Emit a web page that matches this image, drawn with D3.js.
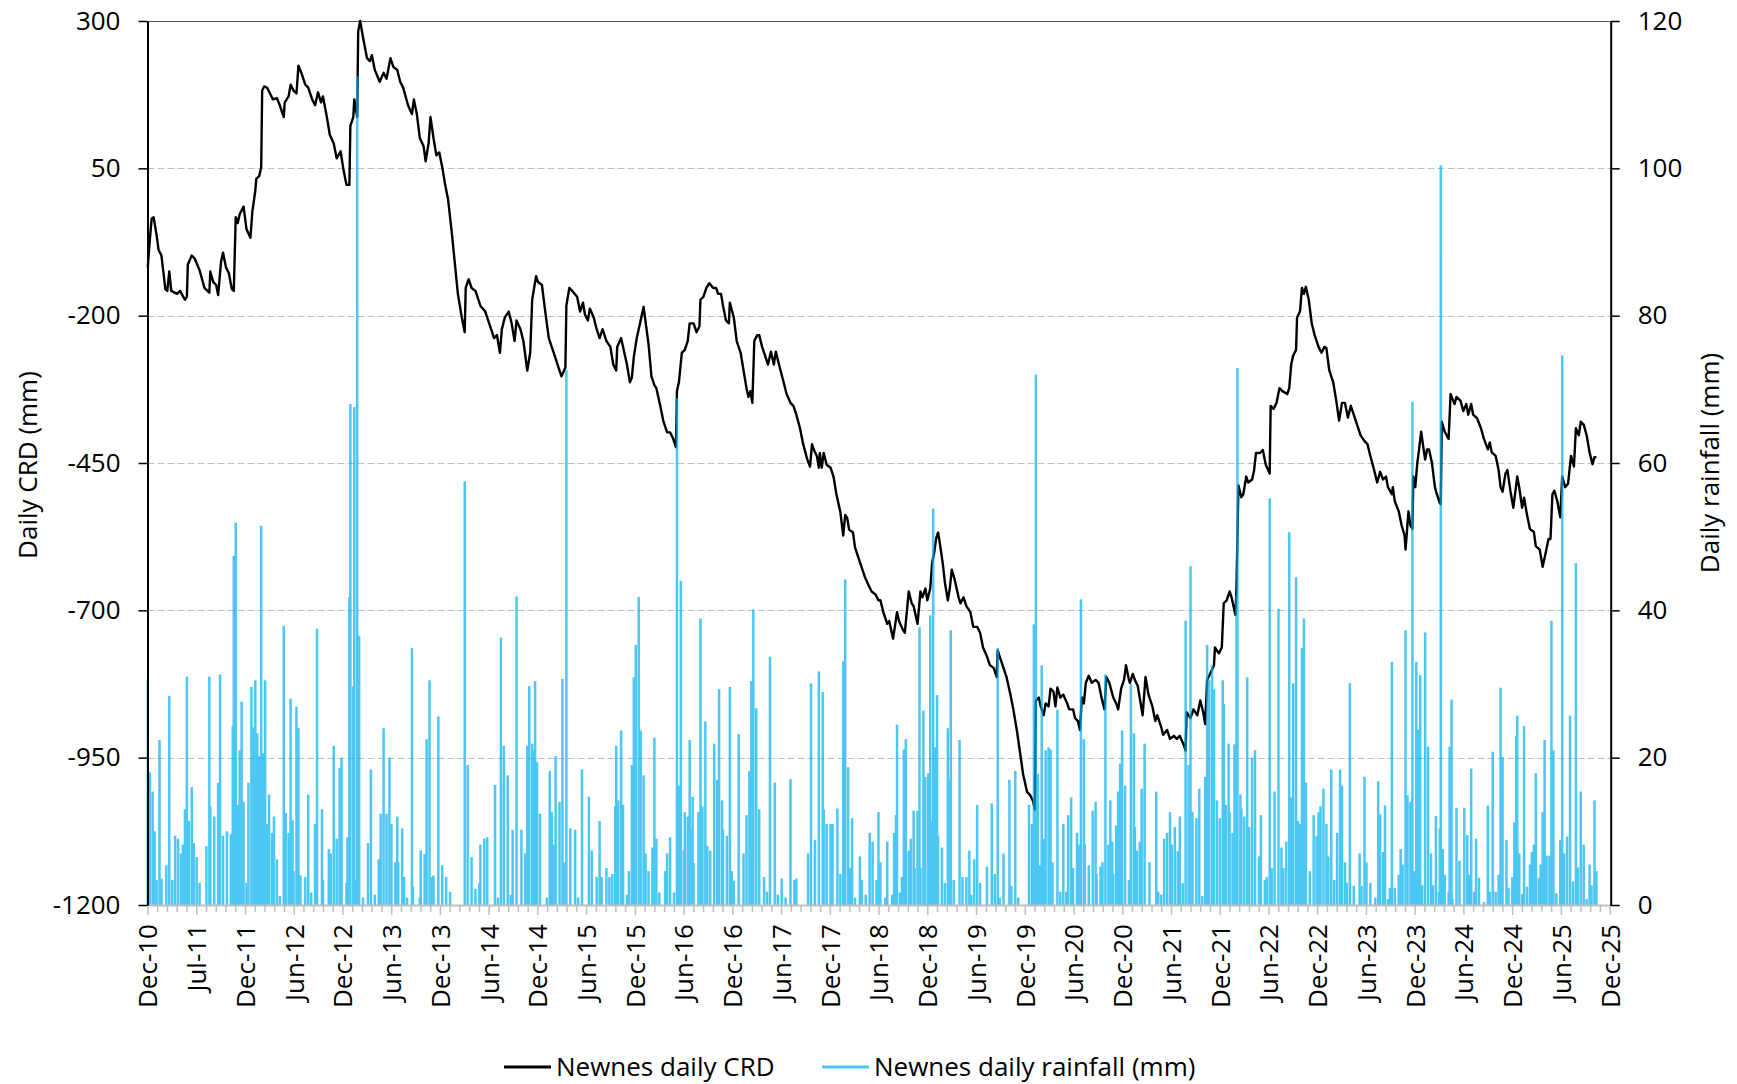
<!DOCTYPE html>
<html>
<head>
<meta charset="utf-8">
<script src="https://cdn.jsdelivr.net/npm/d3@7"></script>
<style>
  body { margin: 0; background: #fff; }
  svg text { font-family: "Open Sans", sans-serif; fill: #000; }
</style>
</head>
<body>
<div id="chart"></div>
<script>
// dates are decimal years
const crdPoints = [
  [2011.00,-118],[2011.02,-73],[2011.04,-35],[2011.06,-33],[2011.09,-63],[2011.11,-88],[2011.14,-98],[2011.18,-155],
  [2011.20,-158],[2011.22,-125],[2011.24,-158],[2011.30,-163],[2011.33,-158],[2011.38,-173],[2011.40,-168],[2011.41,-113],
  [2011.45,-98],[2011.48,-103],[2011.53,-123],[2011.58,-153],[2011.63,-161],[2011.64,-125],[2011.67,-143],[2011.70,-148],
  [2011.72,-165],[2011.75,-108],[2011.77,-93],[2011.80,-118],[2011.83,-128],[2011.86,-155],[2011.88,-158],[2011.90,-33],
  [2011.92,-43],[2011.94,-28],[2011.98,-15],[2012.01,-53],[2012.05,-68],[2012.07,-23],[2012.10,12],[2012.11,32],
  [2012.14,37],[2012.16,52],[2012.17,182],[2012.19,189],[2012.22,187],[2012.25,177],[2012.28,167],[2012.32,169],
  [2012.35,157],[2012.39,137],[2012.40,162],[2012.44,172],[2012.46,192],[2012.49,182],[2012.52,177],[2012.54,224],
  [2012.57,212],[2012.61,192],[2012.64,187],[2012.68,167],[2012.71,157],[2012.74,179],[2012.77,162],[2012.79,172],
  [2012.83,137],[2012.86,107],[2012.90,92],[2012.93,67],[2012.97,79],[2013.00,47],[2013.03,22],[2013.06,22],
  [2013.07,122],[2013.10,137],[2013.11,167],[2013.14,137],[2013.15,282],[2013.17,300],[2013.20,272],[2013.24,237],
  [2013.27,232],[2013.29,242],[2013.32,217],[2013.37,197],[2013.41,212],[2013.44,202],[2013.48,237],[2013.51,222],
  [2013.55,217],[2013.58,197],[2013.61,187],[2013.66,157],[2013.70,142],[2013.72,167],[2013.75,142],[2013.78,102],
  [2013.82,87],[2013.84,62],[2013.87,92],[2013.89,137],[2013.92,102],[2013.95,72],[2013.98,77],[2014.01,52],
  [2014.04,22],[2014.07,-3],[2014.11,-63],[2014.14,-113],[2014.17,-163],[2014.21,-203],[2014.24,-228],[2014.25,-153],
  [2014.28,-138],[2014.31,-153],[2014.35,-158],[2014.40,-183],[2014.45,-193],[2014.48,-208],[2014.52,-228],[2014.54,-238],
  [2014.57,-233],[2014.60,-263],[2014.62,-223],[2014.65,-203],[2014.69,-193],[2014.72,-213],[2014.75,-243],[2014.77,-208],
  [2014.81,-223],[2014.84,-243],[2014.88,-293],[2014.91,-263],[2014.93,-173],[2014.95,-153],[2014.97,-133],[2014.99,-143],
  [2015.03,-148],[2015.06,-188],[2015.10,-238],[2015.13,-253],[2015.16,-268],[2015.20,-288],[2015.23,-303],[2015.27,-288],
  [2015.28,-183],[2015.31,-153],[2015.34,-158],[2015.39,-168],[2015.42,-193],[2015.45,-178],[2015.47,-198],[2015.50,-208],
  [2015.52,-188],[2015.56,-203],[2015.59,-223],[2015.62,-238],[2015.65,-223],[2015.69,-243],[2015.73,-253],[2015.76,-283],
  [2015.79,-293],[2015.80,-253],[2015.84,-238],[2015.86,-253],[2015.90,-283],[2015.93,-313],[2015.95,-305],[2015.97,-270],
  [2016.00,-238],[2016.02,-223],[2016.04,-208],[2016.07,-185],[2016.08,-198],[2016.12,-248],[2016.15,-303],[2016.18,-318],
  [2016.20,-323],[2016.24,-353],[2016.27,-378],[2016.31,-398],[2016.34,-398],[2016.37,-408],[2016.40,-423],[2016.41,-328],
  [2016.43,-313],[2016.46,-263],[2016.49,-258],[2016.52,-243],[2016.54,-213],[2016.58,-213],[2016.61,-228],[2016.64,-218],
  [2016.65,-173],[2016.68,-168],[2016.71,-153],[2016.74,-145],[2016.78,-153],[2016.81,-153],[2016.83,-163],[2016.86,-163],
  [2016.88,-183],[2016.91,-208],[2016.94,-213],[2016.95,-178],[2016.99,-203],[2017.02,-243],[2017.06,-263],[2017.09,-293],
  [2017.12,-323],[2017.14,-338],[2017.16,-328],[2017.18,-348],[2017.20,-243],[2017.23,-233],[2017.25,-233],[2017.28,-253],
  [2017.31,-268],[2017.34,-283],[2017.37,-261],[2017.40,-283],[2017.42,-261],[2017.46,-288],[2017.50,-313],[2017.53,-333],
  [2017.57,-348],[2017.60,-353],[2017.63,-368],[2017.67,-393],[2017.70,-418],[2017.74,-443],[2017.77,-456],[2017.79,-418],
  [2017.81,-428],[2017.84,-438],[2017.86,-458],[2017.87,-433],[2017.89,-458],[2017.91,-433],[2017.94,-453],[2017.98,-458],
  [2018.01,-473],[2018.04,-503],[2018.08,-533],[2018.11,-573],[2018.13,-538],[2018.15,-543],[2018.17,-563],[2018.21,-568],
  [2018.23,-593],[2018.27,-613],[2018.30,-628],[2018.33,-643],[2018.37,-658],[2018.40,-668],[2018.44,-673],[2018.47,-683],
  [2018.49,-683],[2018.52,-703],[2018.56,-723],[2018.58,-718],[2018.62,-748],[2018.66,-703],[2018.68,-718],[2018.72,-733],
  [2018.74,-738],[2018.78,-668],[2018.81,-688],[2018.83,-693],[2018.87,-723],[2018.90,-668],[2018.92,-678],[2018.95,-663],
  [2018.97,-683],[2019.00,-663],[2019.02,-618],[2019.04,-603],[2019.06,-578],[2019.08,-568],[2019.10,-588],[2019.13,-623],
  [2019.15,-653],[2019.18,-683],[2019.20,-663],[2019.22,-631],[2019.25,-648],[2019.29,-678],[2019.31,-688],[2019.34,-678],
  [2019.37,-693],[2019.41,-703],[2019.44,-728],[2019.48,-728],[2019.51,-738],[2019.54,-763],[2019.58,-778],[2019.61,-793],
  [2019.65,-798],[2019.68,-813],[2019.69,-768],[2019.71,-778],[2019.75,-798],[2019.78,-813],[2019.82,-843],[2019.85,-868],
  [2019.89,-908],[2019.92,-943],[2019.95,-978],[2019.99,-1008],[2020.02,-1013],[2020.05,-1023],[2020.07,-1038],[2020.08,-853],
  [2020.11,-848],[2020.13,-863],[2020.16,-878],[2020.18,-858],[2020.21,-863],[2020.23,-833],[2020.26,-838],[2020.28,-863],
  [2020.30,-831],[2020.33,-848],[2020.36,-843],[2020.40,-858],[2020.42,-868],[2020.46,-868],[2020.48,-883],[2020.51,-888],
  [2020.53,-903],[2020.55,-848],[2020.57,-858],[2020.59,-823],[2020.62,-811],[2020.65,-823],[2020.69,-818],[2020.72,-823],
  [2020.75,-848],[2020.78,-868],[2020.80,-813],[2020.83,-823],[2020.87,-848],[2020.90,-858],[2020.92,-868],[2020.95,-833],
  [2020.98,-818],[2021.00,-793],[2021.03,-818],[2021.04,-823],[2021.07,-808],[2021.09,-818],[2021.12,-828],[2021.15,-858],
  [2021.17,-878],[2021.20,-813],[2021.23,-843],[2021.27,-863],[2021.30,-888],[2021.32,-878],[2021.36,-898],[2021.38,-911],
  [2021.42,-903],[2021.45,-918],[2021.49,-913],[2021.52,-918],[2021.55,-913],[2021.59,-928],[2021.61,-938],[2021.62,-873],
  [2021.66,-883],[2021.69,-868],[2021.73,-878],[2021.76,-853],[2021.79,-873],[2021.81,-893],[2021.83,-818],[2021.86,-808],
  [2021.90,-793],[2021.91,-763],[2021.95,-773],[2021.98,-763],[2022.00,-688],[2022.03,-683],[2022.06,-668],[2022.08,-678],
  [2022.12,-708],[2022.13,-663],[2022.15,-488],[2022.18,-508],[2022.20,-503],[2022.23,-473],[2022.25,-483],[2022.29,-478],
  [2022.31,-463],[2022.33,-433],[2022.37,-433],[2022.40,-428],[2022.43,-453],[2022.47,-468],[2022.48,-353],[2022.51,-358],
  [2022.54,-348],[2022.57,-323],[2022.60,-328],[2022.65,-333],[2022.67,-323],[2022.69,-283],[2022.71,-268],[2022.74,-258],
  [2022.75,-203],[2022.78,-193],[2022.80,-153],[2022.82,-163],[2022.84,-151],[2022.87,-173],[2022.90,-213],[2022.93,-233],
  [2022.97,-253],[2023.00,-263],[2023.03,-253],[2023.05,-255],[2023.08,-293],[2023.12,-313],[2023.15,-343],[2023.18,-378],
  [2023.21,-348],[2023.24,-348],[2023.27,-373],[2023.30,-353],[2023.33,-368],[2023.37,-388],[2023.40,-403],[2023.44,-413],
  [2023.47,-418],[2023.50,-438],[2023.54,-463],[2023.57,-483],[2023.60,-465],[2023.63,-478],[2023.66,-473],[2023.68,-491],
  [2023.72,-503],[2023.73,-491],[2023.75,-515],[2023.79,-532],[2023.82,-556],[2023.85,-573],[2023.86,-597],[2023.89,-532],
  [2023.91,-556],[2023.93,-562],[2023.94,-473],[2023.96,-491],[2023.98,-450],[2023.99,-438],[2024.02,-397],[2024.04,-421],
  [2024.06,-444],[2024.08,-427],[2024.10,-427],[2024.13,-450],[2024.16,-491],[2024.18,-503],[2024.21,-518],[2024.22,-520],
  [2024.23,-380],[2024.26,-397],[2024.30,-409],[2024.32,-333],[2024.36,-350],[2024.38,-338],[2024.42,-344],[2024.45,-362],
  [2024.48,-350],[2024.50,-368],[2024.53,-350],[2024.55,-368],[2024.59,-374],[2024.63,-391],[2024.66,-409],[2024.70,-427],
  [2024.72,-415],[2024.74,-432],[2024.78,-438],[2024.81,-462],[2024.83,-491],[2024.85,-499],[2024.88,-468],[2024.90,-462],
  [2024.93,-497],[2024.96,-526],[2025.00,-473],[2025.02,-491],[2025.05,-526],[2025.07,-509],[2025.10,-538],[2025.13,-562],
  [2025.17,-567],[2025.19,-591],[2025.23,-597],[2025.26,-626],[2025.29,-603],[2025.32,-579],[2025.34,-579],[2025.36,-503],
  [2025.38,-497],[2025.41,-515],[2025.44,-542],[2025.46,-473],[2025.49,-491],[2025.52,-485],[2025.55,-438],[2025.58,-456],
  [2025.60,-391],[2025.63,-403],[2025.65,-380],[2025.68,-385],[2025.71,-403],[2025.74,-432],[2025.77,-452],[2025.79,-440],
  [2025.81,-440]
];

const rainPoints = [
  [2011.00,30.5],[2011.02,18],[2011.05,15.4],[2011.07,10],[2011.09,3.4],[2011.12,22.4],[2011.14,3.6],[2011.19,5.4],
  [2011.22,28.4],[2011.25,3.4],[2011.28,9.4],[2011.31,9],[2011.34,7],[2011.36,8.2],[2011.38,13],[2011.40,31],
  [2011.42,11.4],[2011.45,16],[2011.47,8.4],[2011.50,6.5],[2011.53,3],[2011.60,8],[2011.63,31],[2011.64,13.4],
  [2011.68,12],[2011.72,16.6],[2011.74,31.3],[2011.77,9.4],[2011.81,10],[2011.85,9.6],[2011.87,24.3],[2011.88,47.4],
  [2011.90,51.9],[2011.92,13.6],[2011.94,21],[2011.96,27.6],[2011.98,14],[2012.01,3],[2012.03,16.6],[2012.06,29.6],
  [2012.08,24.1],[2012.10,30.5],[2012.12,23.3],[2012.14,20.2],[2012.16,51.5],[2012.18,20.6],[2012.20,30.5],[2012.22,11],
  [2012.24,15],[2012.27,9.8],[2012.29,12],[2012.32,6.2],[2012.35,1.2],[2012.39,37.9],[2012.41,12.5],[2012.44,9.8],
  [2012.46,28],[2012.48,11.5],[2012.49,4.6],[2012.52,26.9],[2012.54,24],[2012.56,4],[2012.61,3.8],[2012.64,15],
  [2012.67,1.7],[2012.71,11],[2012.73,37.5],[2012.78,13],[2012.79,3.4],[2012.85,7.6],[2012.87,7],[2012.90,21.6],
  [2012.93,9],[2012.96,18.6],[2012.98,20],[2013.03,3],[2013.04,9.2],[2013.06,41.8],[2013.07,68],[2013.10,29.7],
  [2013.11,67.6],[2013.13,3.4],[2013.14,112.5],[2013.16,36.5],[2013.20,1],[2013.25,8.4],[2013.28,18.4],[2013.32,1.4],
  [2013.36,6.2],[2013.38,12.4],[2013.41,24],[2013.44,12.4],[2013.47,20],[2013.49,11],[2013.53,5.8],[2013.55,12],
  [2013.56,5.8],[2013.60,10.4],[2013.62,3.8],[2013.65,1],[2013.70,34.9],[2013.71,2.5],[2013.78,1],[2013.79,7.4],
  [2013.83,6.9],[2013.85,22.5],[2013.88,30.5],[2013.90,3.8],[2013.92,4],[2013.97,25.6],[2014.01,5.4],[2014.05,3.8],
  [2014.09,1.8],[2014.24,57.5],[2014.27,19],[2014.31,6.5],[2014.35,2.2],[2014.39,3],[2014.40,8.2],[2014.44,9],
  [2014.47,9.2],[2014.55,16.3],[2014.58,1],[2014.61,36.3],[2014.64,21.6],[2014.68,17.6],[2014.71,1.4],[2014.73,10.2],
  [2014.77,41.9],[2014.82,10.2],[2014.86,7],[2014.88,21.6],[2014.90,29.7],[2014.93,21.9],[2014.94,21],[2014.96,30.4],
  [2014.98,19.4],[2015.01,12.4],[2015.08,1],[2015.11,18.2],[2015.13,12.6],[2015.15,8.2],[2015.17,20.2],[2015.21,14],
  [2015.24,30.7],[2015.26,5.8],[2015.28,72.6],[2015.32,10.4],[2015.37,10.2],[2015.40,1],[2015.44,18.4],[2015.51,14.7],
  [2015.54,7.4],[2015.59,3.8],[2015.62,11.4],[2015.64,3.8],[2015.69,5],[2015.72,3.8],[2015.75,4.2],[2015.78,13.4],
  [2015.79,21.6],[2015.81,14.2],[2015.84,23.7],[2015.86,13.6],[2015.90,1.4],[2015.92,4.6],[2015.95,19],[2015.97,30.9],
  [2015.99,35.3],[2016.02,41.8],[2016.04,23.7],[2016.07,17.6],[2016.09,7],[2016.12,4.6],[2016.16,7.8],[2016.18,22.7],
  [2016.20,9],[2016.23,1.7],[2016.29,4.6],[2016.31,7],[2016.34,9.2],[2016.38,1.7],[2016.41,68.8],[2016.43,16.2],
  [2016.45,44],[2016.48,7.4],[2016.49,12.6],[2016.52,12],[2016.54,22.4],[2016.55,10.4],[2016.57,14.7],[2016.58,5.7],
  [2016.63,12.6],[2016.65,38.9],[2016.67,13.4],[2016.70,24.9],[2016.72,8],[2016.75,7.4],[2016.79,21.9],[2016.82,17],
  [2016.84,29.3],[2016.87,14.2],[2016.88,10.2],[2016.92,9.4],[2016.95,29.6],[2016.97,4.6],[2016.99,3.3],[2017.04,23.2],
  [2017.09,7],[2017.12,12.2],[2017.15,18.2],[2017.17,30.4],[2017.19,40.1],[2017.22,26.7],[2017.25,13],[2017.30,3.8],
  [2017.33,1.8],[2017.36,33.7],[2017.41,16.6],[2017.44,1.4],[2017.48,3.6],[2017.52,1],[2017.57,17.1],[2017.61,3.4],
  [2017.63,3.6],[2017.75,7],[2017.78,30.1],[2017.82,8.8],[2017.86,31.7],[2017.90,28.9],[2017.91,13],[2017.94,11],
  [2017.98,11],[2018.00,11],[2018.05,13.1],[2018.08,4.2],[2018.11,33.1],[2018.13,44.2],[2018.16,18.7],[2018.18,5],
  [2018.20,11.8],[2018.23,1],[2018.28,6.6],[2018.30,3.4],[2018.34,1.4],[2018.38,9.8],[2018.41,8.6],[2018.45,3.4],
  [2018.47,12.6],[2018.49,5.8],[2018.54,1],[2018.56,8.6],[2018.61,1.4],[2018.63,9.8],[2018.65,12.2],[2018.66,24.5],
  [2018.69,1.7],[2018.71,3.8],[2018.73,21.1],[2018.75,22.5],[2018.78,7.4],[2018.80,9],[2018.83,12.8],[2018.84,5],
  [2018.87,12.8],[2018.89,37.7],[2018.90,5],[2018.93,26.4],[2018.95,17.4],[2018.98,17.9],[2019.00,39.3],[2019.02,11.4],
  [2019.03,53.8],[2019.05,21.4],[2019.07,28.5],[2019.08,9.4],[2019.12,7.8],[2019.15,3],[2019.18,24],[2019.20,17],
  [2019.21,37.3],[2019.24,3.4],[2019.30,22.4],[2019.33,3.8],[2019.37,3.8],[2019.40,7.4],[2019.42,1.4],[2019.45,6.2],
  [2019.48,13.6],[2019.51,3],[2019.58,5.2],[2019.63,13.8],[2019.66,4.2],[2019.69,34.9],[2019.71,1],[2019.75,7],
  [2019.81,17],[2019.83,2.6],[2019.87,18.2],[2019.90,1],[2020.01,13.6],[2020.04,11],[2020.06,38.1],[2020.08,72],
  [2020.10,17.8],[2020.12,5.4],[2020.14,32.5],[2020.16,9],[2020.18,21],[2020.21,21.4],[2020.23,21.1],[2020.25,5.8],
  [2020.30,26.5],[2020.33,1.8],[2020.36,11],[2020.39,1.8],[2020.41,12.2],[2020.44,14.6],[2020.46,5],[2020.50,9.8],
  [2020.52,8.2],[2020.54,41.5],[2020.57,22.5],[2020.58,8.2],[2020.62,5.4],[2020.66,12.8],[2020.69,14],[2020.70,4.2],
  [2020.74,5.2],[2020.76,5.8],[2020.79,31.3],[2020.82,8.2],[2020.84,14.2],[2020.86,8.6],[2020.87,4.2],[2020.90,10.8],
  [2020.92,15.4],[2020.94,19.2],[2020.96,23.7],[2020.99,16.2],[2021.03,3.4],[2021.05,30],[2021.08,23.3],[2021.09,10.6],
  [2021.11,7.4],[2021.14,8.6],[2021.16,15.8],[2021.19,21.9],[2021.24,5.8],[2021.31,15.4],[2021.33,1.8],[2021.36,1.4],
  [2021.39,9],[2021.42,9.8],[2021.45,12.6],[2021.47,8.2],[2021.50,10.6],[2021.53,7.3],[2021.55,12],[2021.58,3],
  [2021.61,38.6],[2021.64,19],[2021.66,46],[2021.68,12.6],[2021.72,11.8],[2021.75,15.8],[2021.78,1.2],[2021.81,17.4],
  [2021.83,35.3],[2021.85,30.5],[2021.88,32.5],[2021.90,29.3],[2021.93,14.2],[2021.96,11.8],[2021.99,30.5],[2022.00,27.3],
  [2022.02,13.6],[2022.05,21.9],[2022.06,12.6],[2022.09,9.8],[2022.11,21.8],[2022.13,42],[2022.14,72.9],[2022.17,15],
  [2022.18,13.1],[2022.21,12],[2022.24,30.9],[2022.26,10.6],[2022.29,20],[2022.32,21],[2022.36,6.6],[2022.38,12.2],
  [2022.42,3.4],[2022.44,3.8],[2022.47,55.2],[2022.49,5],[2022.52,15.4],[2022.56,40.2],[2022.59,7.8],[2022.61,5],
  [2022.64,8.6],[2022.67,50.6],[2022.69,14.6],[2022.71,30.1],[2022.74,44.5],[2022.76,11.4],[2022.78,11],[2022.80,34.9],
  [2022.82,38.9],[2022.84,16.6],[2022.88,4.6],[2022.92,12.2],[2022.95,9.4],[2022.97,12.6],[2022.99,13.4],[2023.02,15.8],
  [2023.05,11],[2023.07,6.6],[2023.10,18.4],[2023.13,3.4],[2023.16,9.8],[2023.19,18.4],[2023.21,16.2],[2023.24,5.8],
  [2023.26,3],[2023.29,30.1],[2023.33,2.6],[2023.39,7],[2023.41,2.6],[2023.44,17.4],[2023.46,5.8],[2023.50,3],
  [2023.55,1],[2023.58,16.8],[2023.60,12.3],[2023.63,7.2],[2023.65,13.5],[2023.68,0.8],[2023.70,2.3],[2023.72,33],
  [2023.75,2.3],[2023.79,4.1],[2023.81,7.6],[2023.83,5.5],[2023.86,37.3],[2023.88,14.9],[2023.91,14],[2023.93,68.3],
  [2023.95,4.6],[2023.97,33],[2023.99,23.8],[2024.01,31.2],[2024.03,2.7],[2024.06,37],[2024.09,21.5],[2024.12,7],
  [2024.14,2.7],[2024.17,12.1],[2024.20,1.8],[2024.21,10.4],[2024.22,100.4],[2024.24,7.6],[2024.26,4.1],[2024.30,1.8],
  [2024.31,21.5],[2024.33,27.9],[2024.34,0.8],[2024.38,13.2],[2024.41,6],[2024.46,13.2],[2024.49,9.5],[2024.51,4.1],
  [2024.53,18.5],[2024.56,1.8],[2024.58,9],[2024.61,3.7],[2024.66,0.4],[2024.70,13.5],[2024.72,1.8],[2024.75,20.8],
  [2024.78,1.8],[2024.81,4.1],[2024.83,29.5],[2024.85,20.1],[2024.89,8.8],[2024.91,2.3],[2024.95,3.8],[2024.97,11.2],
  [2024.99,22.9],[2025.00,25.7],[2025.02,7],[2025.05,1.5],[2025.07,24.3],[2025.10,2.5],[2025.13,5.5],[2025.15,7.2],
  [2025.17,8.2],[2025.19,17.9],[2025.22,3.7],[2025.24,5.5],[2025.26,12.6],[2025.28,22.4],[2025.30,6.7],[2025.33,6.7],
  [2025.35,38.6],[2025.37,21],[2025.40,1.6],[2025.44,8.8],[2025.46,74.6],[2025.48,7],[2025.51,9.3],[2025.54,25.7],
  [2025.57,3.2],[2025.60,46.4],[2025.62,5.1],[2025.65,15.4],[2025.68,8.2],[2025.71,0.8],[2025.74,5.5],[2025.76,2.7],
  [2025.79,14.2],[2025.81,4.6]
];

const crdTicks = [-1200, -950, -700, -450, -200, 50, 300];
const rainTicks = [0, 20, 40, 60, 80, 100, 120];
const dateTickStart = Date.UTC(2010, 11, 31);
const dateTickStepDays = 182;
const dateTickCount = 31;
const legendLabels = ["Newnes daily CRD", "Newnes daily rainfall (mm)"];

const DAY = 864e5;

function yearToDate(t) {
  const y = Math.floor(t);
  const start = Date.UTC(y, 0, 1);
  const end = Date.UTC(y + 1, 0, 1);
  return new Date(start + (t - y) * (end - start));
}

class CrdRainfallChart {
  constructor({ id, width = 1737, height = 1084 }) {
    this.id = id;
    this.width = width;
    this.height = height;
    this.margin = { top: 21, right: 126.3, bottom: 179, left: 147.5 };
    this.chartWidth = width - this.margin.left - this.margin.right;
    this.chartHeight = height - this.margin.top - this.margin.bottom;
    this.rainColor = "#00B0F0";
    this.rainOpacity = 0.7;

    this.xScale = d3.scaleUtc()
      .domain([new Date(dateTickStart), new Date(Date.UTC(2025, 11, 16))])
      .range([0, this.chartWidth]);
    this.crdScale = d3.scaleLinear().domain([-1200, 300]).range([this.chartHeight, 0]);
    this.rainScale = d3.scaleLinear().domain([0, 120]).range([this.chartHeight, 0]);
  }

  createSVG() {
    this.svg = d3.select("#" + this.id)
      .append("svg")
      .attr("width", this.width)
      .attr("height", this.height)
      .style("display", "block");
    this.svg.append("rect").attr("width", this.width).attr("height", this.height).attr("fill", "#fff");
    this.chart = this.svg.append("g")
      .attr("transform", `translate(${this.margin.left}, ${this.margin.top})`);
  }

  addGrid() {
    const grid = this.chart.append("g").attr("class", "grid");
    grid.selectAll("line")
      .data(crdTicks.filter((d) => d > -1200))
      .join("line")
      .attr("x1", 0)
      .attr("x2", this.chartWidth)
      .attr("y1", (d) => Math.round(this.crdScale(d)) + 0.5)
      .attr("y2", (d) => Math.round(this.crdScale(d)) + 0.5)
      .attr("stroke", (d) => (d === 300 ? "#595959" : "#BFBFBF"))
      .attr("stroke-width", 1.2)
      .attr("stroke-dasharray", (d) => (d === 300 ? null : "7,3"));
  }

  addLine() {
    const line = d3.line()
      .x((d) => this.xScale(yearToDate(d[0])))
      .y((d) => this.crdScale(d[1]));
    this.chart.append("path")
      .datum(crdPoints)
      .attr("fill", "none")
      .attr("stroke", "#000")
      .attr("stroke-width", 2.4)
      .attr("stroke-linejoin", "round")
      .attr("d", line);
  }

  addBars() {
    const barWidth = 2.5;
    this.chart.append("g")
      .attr("class", "rain")
      .attr("fill", this.rainColor)
      .attr("opacity", this.rainOpacity)
      .selectAll("rect")
      .data(rainPoints)
      .join("rect")
      .attr("x", (d) => this.xScale(yearToDate(d[0])) - barWidth / 2)
      .attr("width", barWidth)
      .attr("y", (d) => this.rainScale(d[1]))
      .attr("height", (d) => this.chartHeight - this.rainScale(d[1]));
  }

  addAxis() {
    const majorDates = d3.range(dateTickCount).map((i) => new Date(dateTickStart + i * dateTickStepDays * DAY));
    const minorDates = d3.range((dateTickCount - 1) * 5 + 1)
      .filter((i) => i % 5 !== 0)
      .map((i) => new Date(dateTickStart + (i * dateTickStepDays * DAY) / 5));

    const bottom = this.chart.append("g")
      .attr("class", "x-axis")
      .attr("transform", `translate(0, ${this.chartHeight})`);
    bottom.append("g")
      .call(d3.axisBottom(this.xScale).tickValues(minorDates).tickSize(7).tickFormat(""))
      .call((g) => g.select(".domain").remove());
    bottom.append("g")
      .call(d3.axisBottom(this.xScale).tickValues(majorDates).tickSize(10).tickSizeOuter(0)
        .tickFormat(d3.utcFormat("%b-%y")))
      .call((g) => g.select(".domain").attr("stroke", "#BFBFBF").attr("stroke-width", 2))
      .selectAll("text")
      .attr("transform", "rotate(-90)")
      .attr("x", -19)
      .attr("y", 0)
      .attr("dy", "0.36em")
      .style("text-anchor", "end")
      .style("font-size", "26px");
    bottom.selectAll(".tick line").attr("stroke", "#BFBFBF").attr("stroke-width", 1.5);

    const plain = (d) => String(d);

    this.chart.append("g")
      .attr("class", "y-axis")
      .call(d3.axisLeft(this.crdScale).tickValues(crdTicks).tickFormat(plain)
        .tickSize(9).tickSizeOuter(0).tickPadding(18))
      .call((g) => g.select(".domain").attr("stroke", "#000").attr("stroke-width", 2))
      .call((g) => g.selectAll(".tick line").attr("stroke", "#000").attr("stroke-width", 1.5))
      .call((g) => g.selectAll("text").style("font-size", "26px"));

    this.chart.append("g")
      .attr("class", "y-axis-right")
      .attr("transform", `translate(${this.chartWidth}, 0)`)
      .call(d3.axisRight(this.rainScale).tickValues(rainTicks).tickFormat(plain)
        .tickSize(9).tickSizeOuter(0).tickPadding(18))
      .call((g) => g.select(".domain").attr("stroke", "#000").attr("stroke-width", 2))
      .call((g) => g.selectAll(".tick line").attr("stroke", "#000").attr("stroke-width", 1.5))
      .call((g) => g.selectAll("text").style("font-size", "26px"));

    this.svg.append("text")
      .attr("transform", "translate(28, 465) rotate(-90)")
      .attr("text-anchor", "middle")
      .attr("dy", "0.35em")
      .style("font-size", "26px")
      .text("Daily CRD (mm)");

    this.svg.append("text")
      .attr("transform", "translate(1710, 463) rotate(-90)")
      .attr("text-anchor", "middle")
      .attr("dy", "0.35em")
      .style("font-size", "26px")
      .text("Daily rainfall (mm)");
  }

  addLegend() {
    const items = [
      { label: legendLabels[0], color: "#000", opacity: 1, x: 504 },
      { label: legendLabels[1], color: this.rainColor, opacity: this.rainOpacity, x: 822 },
    ];
    const legend = this.svg.append("g").attr("class", "legend").attr("transform", "translate(0, 1067)");
    const item = legend.selectAll("g").data(items).join("g")
      .attr("transform", (d) => `translate(${d.x}, 0)`);
    item.append("line")
      .attr("x1", 0).attr("x2", 47)
      .attr("stroke", (d) => d.color)
      .attr("stroke-opacity", (d) => d.opacity)
      .attr("stroke-width", 3);
    item.append("text")
      .attr("x", 52)
      .attr("dy", "0.35em")
      .style("font-size", "26px")
      .text((d) => d.label);
  }

  render() {
    this.createSVG();
    this.addGrid();
    this.addLine();
    this.addBars();
    this.addAxis();
    this.addLegend();
  }
}

new CrdRainfallChart({ id: "chart" }).render();
</script>
</body>
</html>
